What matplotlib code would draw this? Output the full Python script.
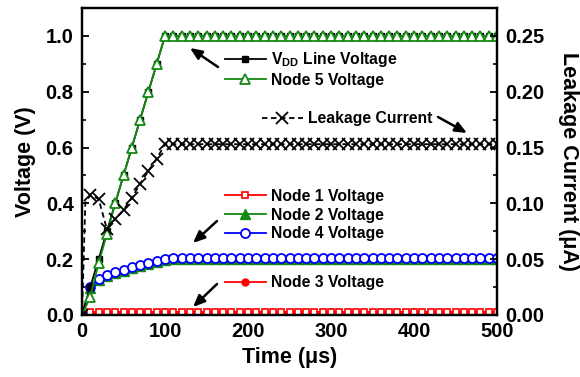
import numpy as np
import matplotlib
matplotlib.use("Agg")
from matplotlib import pyplot as plt

matplotlib.rc("font", family="Liberation Sans", weight="bold", size=14.5)
matplotlib.rcParams["axes.labelweight"] = "bold"
matplotlib.rcParams["mathtext.fontset"] = "custom"
matplotlib.rcParams["mathtext.rm"] = "Liberation Sans:bold"
matplotlib.rcParams["mathtext.bf"] = "Liberation Sans:bold"

# time axis (us), markers every 10 us
t = np.arange(0, 510, 10)
n_flat = len(t) - 11

# rising part 0..100 us, then plateau value
vdd_rise = [0.0, 0.10, 0.20, 0.30, 0.40, 0.50, 0.60, 0.70, 0.80, 0.90, 1.0]
vdd_flat = 1.0
node5_rise = [0.0, 0.065, 0.185, 0.29, 0.40, 0.50, 0.60, 0.70, 0.80, 0.90, 1.0]
node5_flat = 1.0
node4_rise = [0.0, 0.10, 0.128, 0.143, 0.153, 0.161, 0.171, 0.179, 0.187, 0.194, 0.200]
node4_flat = 0.203
node2_rise = [0.0, 0.095, 0.124, 0.139, 0.149, 0.157, 0.167, 0.175, 0.183, 0.190, 0.197]
node2_flat = 0.201
node1_rise = [0.0, 0.011, 0.011, 0.011, 0.011, 0.011, 0.011, 0.011, 0.011, 0.011, 0.011]
node1_flat = 0.011
node3_rise = [0.0, 0.006, 0.006, 0.006, 0.006, 0.006, 0.006, 0.006, 0.006, 0.006, 0.006]
node3_flat = 0.006

# leakage current (uA), extra point at 4 us for the fast initial rise
leak_t_rise = [0, 4, 10, 20, 30, 40, 50, 60, 70, 80, 90, 100]
leak_rise = [0.0, 0.10, 0.1075, 0.104, 0.077, 0.086, 0.094, 0.105, 0.1175, 0.129, 0.140, 0.153]
leak_flat = 0.153


def series(rise, flat):
    return np.concatenate([rise, np.full(n_flat, flat)])


leak_t = np.concatenate([leak_t_rise, t[11:]])
leak = np.concatenate([leak_rise, np.full(n_flat, leak_flat)])

green = "#138a13"

fig = plt.figure(figsize=(5.8, 3.77), dpi=100)
ax = fig.add_axes([82 / 580, 1 - 315 / 377, 415 / 580, 307 / 377])
ax2 = ax.twinx()

lw = 1.3
l3, = ax.plot(t, series(node3_rise, node3_flat), "-o", color="red", lw=lw, ms=5, label="Node 3 Voltage")
l1, = ax.plot(t, series(node1_rise, node1_flat), "-s", color="red", mfc="white", lw=lw, ms=5,
              mew=1.2, label="Node 1 Voltage")
l2, = ax.plot(t, series(node2_rise, node2_flat), "-^", color=green, lw=lw, ms=7, label="Node 2 Voltage")
l4, = ax.plot(t, series(node4_rise, node4_flat), "-o", color="blue", mfc="white", lw=lw, ms=6.5,
              mew=1.3, label="Node 4 Voltage")
lv, = ax.plot(t, series(vdd_rise, vdd_flat), "-s", color="black", lw=lw, ms=5,
              label=r"V$_{\rm DD}$ Line Voltage")
l5, = ax.plot(t, series(node5_rise, node5_flat), "-^", color=green, mfc="white", lw=lw, ms=7.5,
              mew=1.3, label="Node 5 Voltage")
mark_idx = [0] + list(range(2, len(leak_t)))
ll, = ax2.plot(leak_t, leak, "--x", color="black", lw=1.3, ms=8, mew=1.3, markevery=mark_idx,
               dashes=(3, 2), label="Leakage Current")

ax.set_xlim(0, 500)
ax.set_ylim(0, 1.1)
ax2.set_ylim(0, 0.275)
ax.set_xticks([0, 100, 200, 300, 400, 500])
ax.set_xticks(np.arange(50, 500, 100), minor=True)
ax.set_yticks([0.0, 0.2, 0.4, 0.6, 0.8, 1.0])
ax.set_yticks(np.arange(0.1, 1.1, 0.2), minor=True)
ax2.set_yticks([0.0, 0.05, 0.10, 0.15, 0.20, 0.25])
ax2.set_yticks(np.arange(0.025, 0.275, 0.05), minor=True)
ax.set_yticklabels(["0.0", "0.2", "0.4", "0.6", "0.8", "1.0"])
ax2.set_yticklabels(["0.00", "0.05", "0.10", "0.15", "0.20", "0.25"])

ax.tick_params(axis="both", which="major", direction="in", length=5, width=1.3, pad=6)
ax.tick_params(axis="both", which="minor", direction="in", length=3, width=1.2)
ax.tick_params(axis="x", which="major", pad=5)
ax.tick_params(axis="y", right=False)
ax2.tick_params(axis="y", which="major", direction="in", length=5, width=1.3, pad=6)
ax2.tick_params(axis="y", which="minor", direction="in", length=3, width=1.2)
for a in (ax, ax2):
    for s in a.spines.values():
        s.set_linewidth(1.6)

ax.set_xlabel("Time (\u03bcs)", fontsize=15.5, labelpad=4)
ax.set_ylabel("Voltage (V)", fontsize=15.5, labelpad=7)
ax2.set_ylabel("Leakage Current (\u03bcA)", fontsize=15.5, rotation=270, labelpad=25)

leg_kw = dict(loc="center left", bbox_transform=fig.transFigure, frameon=False, fontsize=11.3,
              borderpad=0, borderaxespad=0, handlelength=2.6, handletextpad=0.35, labelspacing=0.25)
W, H = 580, 377
leg1 = ax2.legend([lv, l5], [lv.get_label(), l5.get_label()], bbox_to_anchor=(225 / W, 1 - 69 / H), **leg_kw)
ax2.add_artist(leg1)
leg2 = ax2.legend([ll], [ll.get_label()], bbox_to_anchor=(262 / W, 1 - 119 / H), **leg_kw)
ax2.add_artist(leg2)
leg3 = ax2.legend([l1, l2, l4], [l1.get_label(), l2.get_label(), l4.get_label()],
                  bbox_to_anchor=(225 / W, 1 - 215 / H), **leg_kw)
ax2.add_artist(leg3)
leg4 = ax2.legend([l3], [l3.get_label()], bbox_to_anchor=(225 / W, 1 - 283 / H), **leg_kw)

arrowprops = dict(arrowstyle="-|>,head_length=0.7,head_width=0.3", color="black", lw=1.8,
                  mutation_scale=10, shrinkA=0, shrinkB=0)
for (x0, y0, x1, y1) in [(218, 67, 190, 48), (438, 117, 467, 133), (217, 221, 193, 243), (217, 284, 193, 307)]:
    ax2.annotate("", xy=(x1 / W, 1 - y1 / H), xytext=(x0 / W, 1 - y0 / H),
                 xycoords="figure fraction", textcoords="figure fraction", arrowprops=arrowprops)

plt.savefig("out.png", dpi=100)
